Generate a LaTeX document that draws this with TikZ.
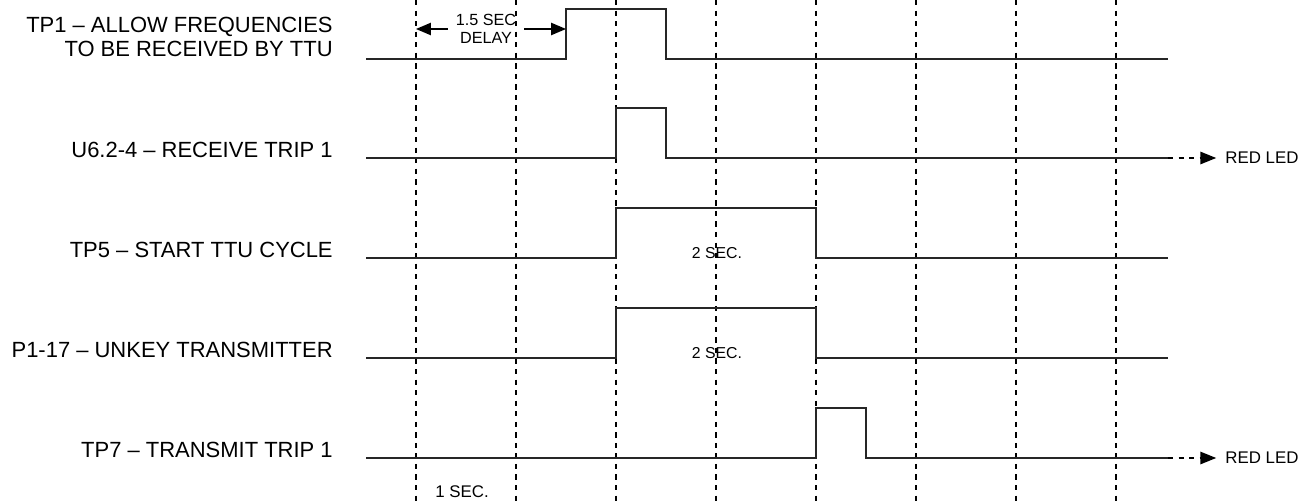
\documentclass[tikz,border=0pt]{standalone}
\usepackage{fontspec}
\setmainfont{Liberation Sans}
\usetikzlibrary{arrows.meta}

\begin{document}
\begin{tikzpicture}[
        x=0.2mm, y=-0.2mm,
        siglbl/.style={font=\fontsize{12.5}{14}\selectfont, anchor=east, align=right, inner sep=0pt},
        smalllbl/.style={font=\fontsize{9.2}{10}\selectfont, align=center, inner xsep=4.5pt, inner ysep=0pt},
        durlbl/.style={font=\fontsize{9}{11}\selectfont, inner sep=0pt},
        gridline/.style={draw=black, line width=0.9pt, dash pattern=on 3pt off 3pt},
        wave/.style={draw=black!85, line width=1pt, line join=miter},
        ledarr/.style={line width=1pt, dash pattern=on 3pt off 3pt, -{Triangle[length=9pt, width=7pt]}},
        delayarr/.style={line width=0.8pt, -{Triangle[length=8.5pt, width=7pt]}}
      ]
      \useasboundingbox (0,0) rectangle (1312,503);
      % time grid, one step per half second
      \foreach \x in {416,516,...,1116}
        \draw[gridline] (\x,0) -- (\x,503);
      % signals
      \foreach \lbl/\ly/\y/\rise/\fall [count=\i] in {%
        {TP1 -- ALLOW FREQUENCIES\\TO BE RECEIVED BY TTU}/37/59/566/666,
        {U6.2-4 -- RECEIVE TRIP 1}/150/158/616/666,
        {TP5 -- START TTU CYCLE}/250/258/616/816,
        {P1-17 -- UNKEY TRANSMITTER}/350/358/616/816,
        {TP7 -- TRANSMIT TRIP 1}/450/458/816/866%
      }{
        \node[siglbl] (lbl\i) at (333,\ly) {\lbl};
        \draw[wave] (366,\y) -- (\rise,\y) -- (\rise,\y-50)
          -- (\fall,\y-50) -- (\fall,\y) -- (1168,\y);
      }
      % outputs
      \foreach \y/\nm in {158/ledA, 458/ledB} {
        \node[font=\fontsize{9.6}{11}\selectfont, anchor=west, inner sep=0pt] (\nm) at (1225,\y) {RED LED};
        \coordinate (\nm s) at (1168,\y);
        \draw[ledarr] (\nm s) -- ([xshift=-5pt]\nm.west);
      }
      % delay
      \node[smalllbl] (dly) at (486,29) {1.5 SEC\\DELAY};
      \coordinate (dlyL) at (416,29);
      \coordinate (dlyR) at (566,29);
      \draw[delayarr] (dly.west) -- (dlyL);
      \draw[delayarr] (dly.east) -- (dlyR);
      % durations
      \node[durlbl] (durA) at (717,253) {2 SEC.};
      \node[durlbl] (durB) at (717,353) {2 SEC.};
      \node[font=\fontsize{9.6}{12}\selectfont, inner sep=0pt] (onesec) at (462,492) {1 SEC.};
    \end{tikzpicture}
\end{document}
